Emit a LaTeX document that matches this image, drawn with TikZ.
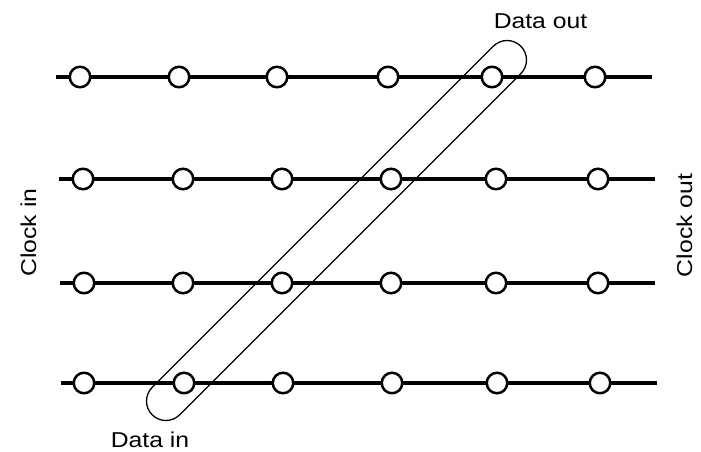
\documentclass[tikz,border=0pt]{standalone}
\usepackage{fontspec}
\setmainfont{Liberation Sans}
\begin{document}
\begin{tikzpicture}[x=1pt,y=-1pt,
  wire/.style={line width=3.5pt},
  cell/.style={circle,draw,fill=white,line width=2.5pt,inner sep=0pt,minimum size=20.5pt},
  caps/.style={draw,line width=1.3pt,rectangle,rounded corners=19.4pt,minimum width=521.3pt,minimum height=38.8pt,inner sep=0pt,rotate=45},
  lbl/.style={font=\fontsize{21.5}{25}\selectfont,inner sep=0pt,anchor=base,xscale=1.15}]
\useasboundingbox (0,0) rectangle (701,451);
% rows
\foreach \r/\y/\l/\rr/\a/\b/\c/\d/\e/\f in {
  1/77/56/652/80/179/277/388/492/595,
  2/179/59/655/83/183/282/391/496/598,
  3/283/60/655/84/183/282/391/496/598,
  4/383/61/657/84/184/283/392/497/600}{
  \coordinate (L\r) at (\l,\y);
  \coordinate (R\r) at (\rr,\y);
  \draw[wire] (L\r) -- (R\r);
  \node[cell] (c\r1) at (\a,\y) {};
  \node[cell] (c\r2) at (\b,\y) {};
  \node[cell] (c\r3) at (\c,\y) {};
  \node[cell] (c\r4) at (\d,\y) {};
  \node[cell] (c\r5) at (\e,\y) {};
  \node[cell] (c\r6) at (\f,\y) {};
}
% capsule
\node[caps] (capsule) at (336.5,230.5) {};
% labels
\node[lbl] (dout) at (540.5,28) {Data out};
\node[lbl] (din) at (150,447) {Data in};
\node[rotate=90,lbl] (cin) at (36,232.5) {Clock in};
\node[rotate=90,lbl] (cout) at (692,225.5) {Clock out};
\end{tikzpicture}
\end{document}
